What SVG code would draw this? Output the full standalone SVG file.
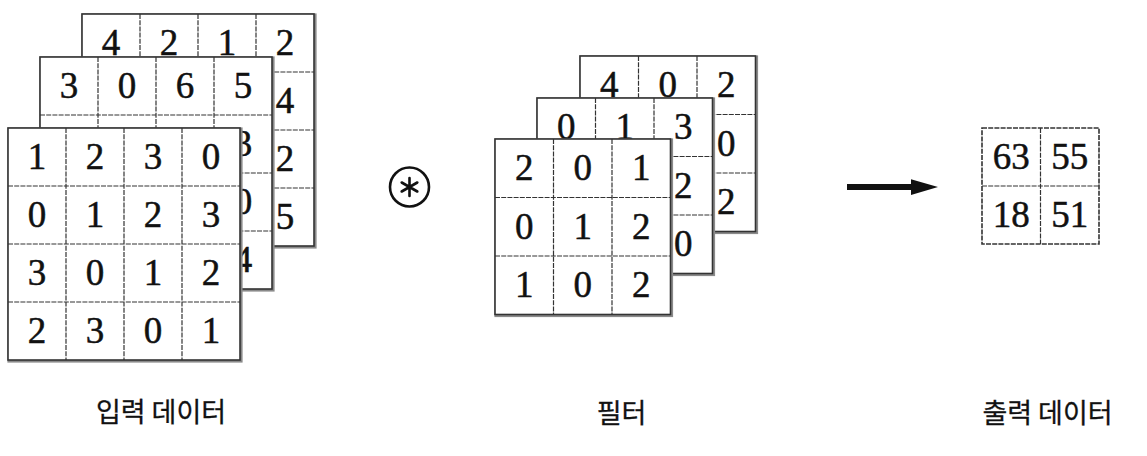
<svg xmlns="http://www.w3.org/2000/svg" width="1147" height="456" viewBox="0 0 1147 456">
<style>
.shadow{fill:none;stroke:#8a8a8a;stroke-width:3.2}
.frame{fill:#fff;stroke:#333;stroke-width:1.6}
.grid{fill:none;stroke:#333;stroke-width:1.2;stroke-dasharray:5 1.2}
.num{font-family:"Liberation Serif",serif;font-size:37px;text-anchor:middle;fill:#111;stroke:#111;stroke-width:0.5}
.label{font-family:"Noto Sans CJK KR",sans-serif;font-size:27px;font-weight:400;text-anchor:middle;fill:#111;stroke:#111;stroke-width:0.3}
</style>
<rect width="1147" height="456" fill="#fff"/>
<g id="input-ch3">
<rect class="shadow" x="83" y="15" width="232" height="232"/>
<rect class="frame" x="82" y="14" width="232" height="232"/>
<path class="grid" d="M140 14V246M198 14V246M256 14V246M82 72H314M82 130H314M82 188H314"/>
<text class="num" x="111" y="55">4</text><text class="num" x="169" y="55">2</text><text class="num" x="227" y="55">1</text><text class="num" x="285" y="55">2</text>
<text class="num" x="285" y="113">4</text><text class="num" x="285" y="171">2</text><text class="num" x="285" y="229">5</text>
</g>
<g id="input-ch2">
<rect class="shadow" x="41" y="58" width="232" height="232"/>
<rect class="frame" x="40" y="57" width="232" height="232"/>
<path class="grid" d="M98 57V289M156 57V289M214 57V289M40 115H272M40 173H272M40 231H272"/>
<text class="num" x="69" y="98">3</text><text class="num" x="127" y="98">0</text><text class="num" x="185" y="98">6</text><text class="num" x="243" y="98">5</text>
<text class="num" x="243" y="156">3</text><text class="num" x="243" y="214">0</text><text class="num" x="243" y="272">4</text>
</g>
<g id="input-ch1">
<rect class="shadow" x="9" y="129" width="232" height="232"/>
<rect class="frame" x="8" y="128" width="232" height="232"/>
<path class="grid" d="M66 128V360M124 128V360M182 128V360M8 186H240M8 244H240M8 302H240"/>
<text class="num" x="37" y="169">1</text><text class="num" x="95" y="169">2</text><text class="num" x="153" y="169">3</text><text class="num" x="211" y="169">0</text>
<text class="num" x="37" y="227">0</text><text class="num" x="95" y="227">1</text><text class="num" x="153" y="227">2</text><text class="num" x="211" y="227">3</text>
<text class="num" x="37" y="285">3</text><text class="num" x="95" y="285">0</text><text class="num" x="153" y="285">1</text><text class="num" x="211" y="285">2</text>
<text class="num" x="37" y="343">2</text><text class="num" x="95" y="343">3</text><text class="num" x="153" y="343">0</text><text class="num" x="211" y="343">1</text>
</g>
<g id="conv-op" fill="none" stroke="#111">
<circle cx="409.5" cy="187" r="19.5" stroke-width="2.6"/>
<path d="M409.5 178V196M401.7 182.5L417.3 191.5M401.7 191.5L417.3 182.5" stroke-width="2.6" stroke-linecap="round"/>
</g>
<g id="filter-ch3">
<rect class="shadow" x="581" y="57" width="175.5" height="175.5"/>
<rect class="frame" x="580" y="56" width="175.5" height="175.5"/>
<path class="grid" d="M638.5 56V231.5M697 56V231.5M580 114.5H755.5M580 173H755.5"/>
<text class="num" x="609.25" y="97.25">4</text><text class="num" x="667.75" y="97.25">0</text><text class="num" x="726.25" y="97.25">2</text>
<text class="num" x="726.25" y="155.75">0</text><text class="num" x="726.25" y="214.25">2</text>
</g>
<g id="filter-ch2">
<rect class="shadow" x="538" y="99" width="175.5" height="175.5"/>
<rect class="frame" x="537" y="98" width="175.5" height="175.5"/>
<path class="grid" d="M595.5 98V273.5M654 98V273.5M537 156.5H712.5M537 215H712.5"/>
<text class="num" x="566.25" y="139.25">0</text><text class="num" x="624.75" y="139.25">1</text><text class="num" x="683.25" y="139.25">3</text>
<text class="num" x="683.25" y="197.75">2</text><text class="num" x="683.25" y="256.25">0</text>
</g>
<g id="filter-ch1">
<rect class="shadow" x="496" y="140" width="175.5" height="175.5"/>
<rect class="frame" x="495" y="139" width="175.5" height="175.5"/>
<path class="grid" d="M553.5 139V314.5M612 139V314.5M495 197.5H670.5M495 256H670.5"/>
<text class="num" x="524.25" y="180.25">2</text><text class="num" x="582.75" y="180.25">0</text><text class="num" x="641.25" y="180.25">1</text>
<text class="num" x="524.25" y="238.75">0</text><text class="num" x="582.75" y="238.75">1</text><text class="num" x="641.25" y="238.75">2</text>
<text class="num" x="524.25" y="297.25">1</text><text class="num" x="582.75" y="297.25">0</text><text class="num" x="641.25" y="297.25">2</text>
</g>
<g id="connectors">
<path d="M847 184H913V190H847Z M911 179.3L938 187L911 195Z" fill="#111"/>
</g>
<g id="output">
<rect class="frame" x="982" y="128" width="117" height="116" style="stroke-dasharray:5 1.2"/>
<path class="grid" d="M1040.5 128V244M982 186H1099"/>
<text class="num" x="1011.25" y="169">63</text><text class="num" x="1069.75" y="169">55</text>
<text class="num" x="1011.25" y="227">18</text><text class="num" x="1069.75" y="227">51</text>
</g>
<g id="labels">
<text class="label" x="161" y="422">입력 데이터</text>
<text class="label" x="621.5" y="423">필터</text>
<text class="label" x="1047.5" y="423">출력 데이터</text>
</g>
</svg>
